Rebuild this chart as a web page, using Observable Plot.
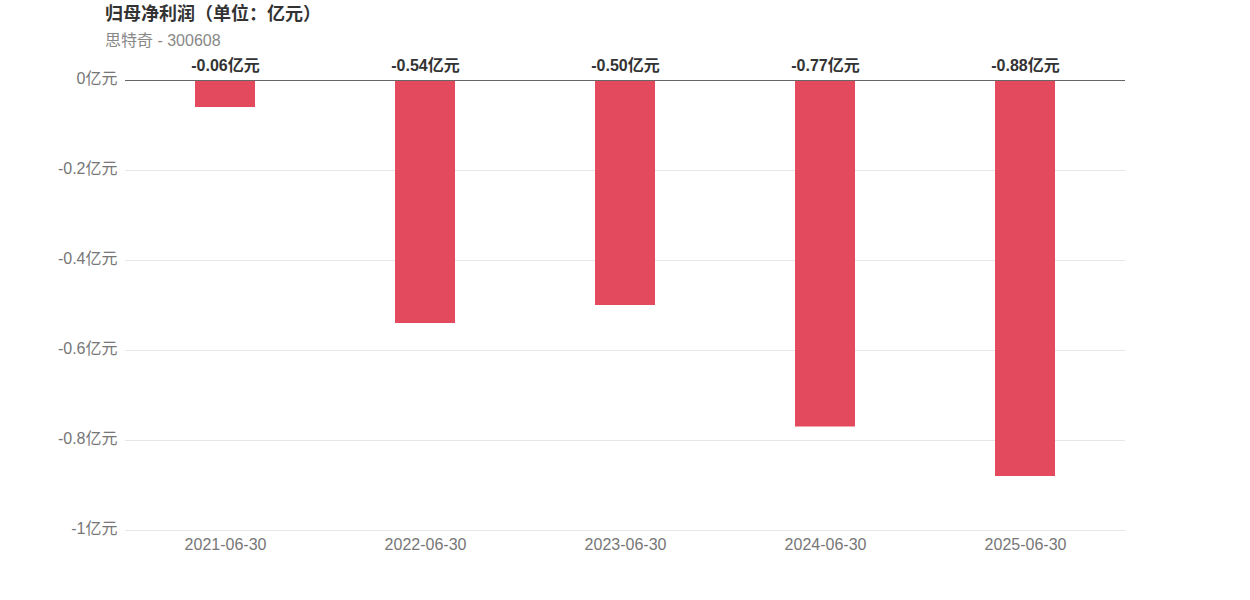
<!DOCTYPE html>
<html>
<head>
<meta charset="utf-8">
<script src="https://cdn.jsdelivr.net/npm/d3@7"></script>
<script src="https://cdn.jsdelivr.net/npm/@observablehq/plot@0.6"></script>
<style>
  body { margin: 0; background: #fff; font-family: "Liberation Sans", Arial, "Noto Sans CJK SC", sans-serif; }
  #wrap { position: relative; width: 1250px; height: 600px; }
  #title { position: absolute; left: 105px; top: 2px; font-size: 18px; font-weight: bold; color: #333; line-height: 24px; }
  #subtitle { position: absolute; left: 105px; top: 30px; font-size: 16px; color: #888; line-height: 22px; }
  #chart { position: absolute; left: 0; top: 50px; }
</style>
</head>
<body>
<div id="wrap">
  <div id="title">归母净利润（单位：亿元）</div>
  <div id="subtitle">思特奇 - 300608</div>
  <div id="chart"></div>
</div>
<script>
const dates = ["2021-06-30", "2022-06-30", "2023-06-30", "2024-06-30", "2025-06-30"];
const values = [-0.06, -0.54, -0.50, -0.77, -0.88];
const yTicks = [0, -0.2, -0.4, -0.6, -0.8, -1];
const unit = "亿元";

const data = dates.map((d, i) => ({date: d, value: values[i]}));

const chart = Plot.plot({
  width: 1250,
  height: 520,
  marginLeft: 125,
  marginRight: 125,
  marginTop: 30,
  marginBottom: 40,
  style: {fontFamily: '"Liberation Sans", Arial, "Noto Sans CJK SC", sans-serif', fontSize: "16px", background: "#fff"},
  x: {domain: dates, paddingInner: 0.7, paddingOuter: 0.35, label: null},
  y: {domain: [-1, 0], label: null},
  marks: [
    Plot.gridY(yTicks.filter(t => t !== 0), {stroke: "#e6e6e6", strokeOpacity: 1}),
    Plot.barY(data, {x: "date", y: "value", fill: "#e34a5e"}),
    Plot.ruleY([0], {stroke: "#666", strokeWidth: 1}),
    Plot.axisY({ticks: yTicks, tickSize: 0, tickPadding: 8, dy: -2, tickFormat: d => `${d}${unit}`, fill: "#777", fontSize: 16, label: null}),
    Plot.axisX({tickSize: 0, tickPadding: 8, fill: "#777", fontSize: 16, label: null}),
    Plot.text(data, {x: "date", y: 0, text: d => `${d.value.toFixed(2)}${unit}`, dy: -15, fill: "#333", fontWeight: "bold", fontSize: 16})
  ]
});
document.getElementById("chart").appendChild(chart);
</script>
</body>
</html>
